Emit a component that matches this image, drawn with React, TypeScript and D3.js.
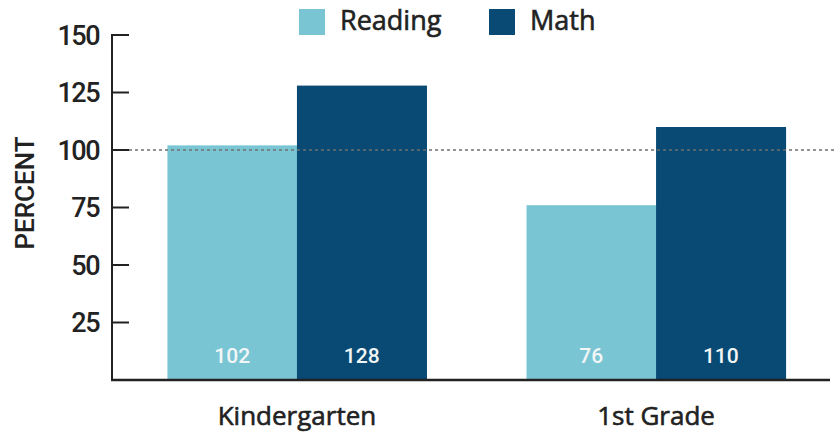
import { useEffect, useRef } from "react";
import * as d3 from "d3";

const categories = ["Kindergarten", "1st Grade"];
const seriesNames = ["Reading", "Math"];
const readingValues = [102, 76];
const mathValues = [128, 110];
const yTicks = [25, 50, 75, 100, 125, 150];
const referenceValue = 100;

const COLORS: Record<string, string> = {
  Reading: "#7AC5D4",
  Math: "#084A73",
};

const FONT = "Roboto, 'Open Sans', sans-serif";
const FONT_WIDE = "'Open Sans', Roboto, sans-serif";
const INK = "#222222";

export default function App() {
  const svgRef = useRef<SVGSVGElement>(null);

  useEffect(() => {
    const svg = d3.select(svgRef.current);
    if (!svgRef.current) return;
    svg.selectAll("*").remove();

    const width = 838;
    const height = 436;
    const axisX = 112;
    const baseY = 380;
    const plotRight = 830;

    const y = d3.scaleLinear().domain([0, 150]).range([baseY, 35]);

    const x0 = d3
      .scaleBand<string>()
      .domain(categories)
      .range([117.5, 835.5])
      .paddingInner(0.2786)
      .paddingOuter(0.139);

    const x1 = d3
      .scaleBand<string>()
      .domain(seriesNames)
      .range([0, x0.bandwidth()])
      .padding(0);

    const rows = categories.map((c, i) => ({
      category: c,
      values: [
        { key: "Reading", value: readingValues[i] },
        { key: "Math", value: mathValues[i] },
      ],
    }));

    svg.attr("width", width).attr("height", height);

    // Bars
    const groups = svg
      .append("g")
      .selectAll("g")
      .data(rows)
      .join("g")
      .attr("transform", (d) => `translate(${x0(d.category)},0)`);

    groups
      .selectAll("rect")
      .data((d) => d.values)
      .join("rect")
      .attr("x", (d) => x1(d.key)!)
      .attr("y", (d) => y(d.value))
      .attr("width", x1.bandwidth() + 0.5)
      .attr("height", (d) => baseY - y(d.value))
      .attr("fill", (d) => COLORS[d.key]);

    // Value labels inside bars
    groups
      .selectAll("text")
      .data((d) => d.values)
      .join("text")
      .attr("x", (d) => x1(d.key)! + x1.bandwidth() / 2)
      .attr("y", 363)
      .attr("text-anchor", "middle")
      .attr("font-family", FONT)
      .attr("font-size", "21px")
      .attr("font-weight", 500)
      .attr("fill", "#F2F6F7")
      .text((d) => d.value);

    // Reference line at 100
    svg
      .append("line")
      .attr("x1", axisX + 17)
      .attr("x2", 834)
      .attr("y1", y(referenceValue))
      .attr("y2", y(referenceValue))
      .attr("stroke", "#6f6f6f")
      .attr("stroke-width", 1.4)
      .attr("stroke-dasharray", "3,3");

    // Y axis
    svg
      .append("line")
      .attr("x1", axisX)
      .attr("x2", axisX)
      .attr("y1", y(150) - 1)
      .attr("y2", baseY)
      .attr("stroke", INK)
      .attr("stroke-width", 2);

    const tickG = svg
      .append("g")
      .selectAll("g")
      .data(yTicks)
      .join("g")
      .attr("transform", (d) => `translate(0,${y(d)})`);

    tickG
      .append("line")
      .attr("x1", axisX)
      .attr("x2", axisX + 17)
      .attr("stroke", INK)
      .attr("stroke-width", 2);

    tickG
      .append("text")
      .attr("x", 99)
      .attr("dy", "0.36em")
      .attr("text-anchor", "end")
      .attr("font-family", FONT)
      .attr("font-size", "27px")
      .attr("font-weight", 500)
      .attr("letter-spacing", "-1.5px")
      .attr("fill", INK)
      .text((d) => d);

    // Baseline
    svg
      .append("line")
      .attr("x1", axisX - 1)
      .attr("x2", plotRight)
      .attr("y1", baseY)
      .attr("y2", baseY)
      .attr("stroke", INK)
      .attr("stroke-width", 2.5);

    // Category labels
    svg
      .append("g")
      .selectAll("text")
      .data(categories)
      .join("text")
      .attr("x", (d) => x0(d)! + x0.bandwidth() / 2)
      .attr("y", 425)
      .attr("text-anchor", "middle")
      .attr("font-family", FONT_WIDE)
      .attr("font-size", "26px")
      .attr("fill", INK)
      .attr("stroke", INK)
      .attr("stroke-width", 0.6)
      .text((d) => d);

    // Y title
    svg
      .append("text")
      .attr("transform", `translate(34,193) rotate(-90)`)
      .attr("text-anchor", "middle")
      .attr("font-family", FONT)
      .attr("font-size", "26px")
      .attr("font-weight", 500)
      .attr("fill", INK)
      .text("PERCENT");

    // Legend
    const legendX = [299, 489];
    const legend = svg
      .append("g")
      .selectAll("g")
      .data(seriesNames)
      .join("g")
      .attr("transform", (_d, i) => `translate(${legendX[i]},9)`);

    legend
      .append("rect")
      .attr("width", 26)
      .attr("height", 26)
      .attr("fill", (d) => COLORS[d]);

    legend
      .append("text")
      .attr("x", 41)
      .attr("y", 21)
      .attr("font-family", FONT_WIDE)
      .attr("font-size", "27px")
      .attr("fill", INK)
      .attr("stroke", INK)
      .attr("stroke-width", 0.6)
      .text((d) => d);
  }, []);

  return (
    <svg
      ref={svgRef}
      style={{ position: "absolute", left: 0, top: 0, background: "#fff" }}
    />
  );
}
